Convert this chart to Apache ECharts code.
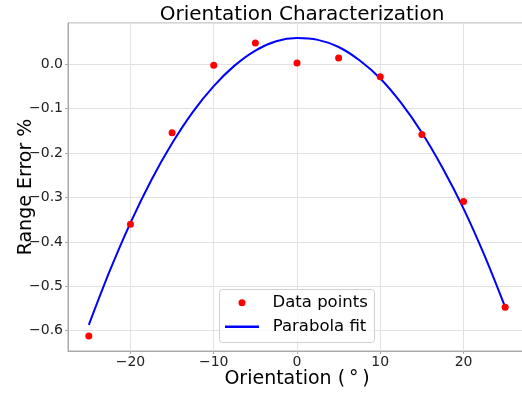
<!DOCTYPE html>
<html>
<head>
<meta charset="utf-8">
<script src="https://cdn.jsdelivr.net/npm/echarts@6/dist/echarts.min.js"></script>
<style>html,body{margin:0;padding:0;background:#fff;}#c{width:522px;height:393px;}</style>
</head>
<body>
<div id="c"></div>
<script>
// Data points
const pointX = [-25, -20, -15, -10, -5, 0, 5, 10, 15, 20, 25];
const pointY = [-0.612, -0.360, -0.154, -0.002, 0.048, 0.003, 0.014, -0.028, -0.158, -0.309, -0.547];
// Parabola fit curve
const fitX = [-25, -22.5, -20, -17.5, -15, -12.5, -10, -7.5, -5, -2.5, 0, 2.5, 5, 7.5, 10, 12.5, 15, 17.5, 20, 22.5, 25];
const fitY = [-0.587, -0.466, -0.357, -0.261, -0.178, -0.107, -0.049, -0.003, 0.031, 0.052, 0.059, 0.055, 0.039, 0.009, -0.032, -0.087, -0.154, -0.234, -0.325, -0.430, -0.547];

const FONT = 'DejaVu Sans';
const chart = echarts.init(document.getElementById('c'), null, {renderer: 'canvas'});
const fmt = v => (v < 0 ? '\u2212' : '') + Math.abs(v);
const fmtY = v => (v < -1e-9 ? '\u2212' : '') + Math.abs(v).toFixed(1);
const legText = {fontFamily: FONT, fontSize: 16.5, color: '#000', lineHeight: 20};

chart.setOption({
  animation: false,
  backgroundColor: '#fff',
  title: {
    text: 'Orientation Characterization',
    left: 297, top: 0, textAlign: 'center',
    textStyle: {fontFamily: FONT, fontSize: 20, fontWeight: 'normal', color: '#000'}
  },
  grid: {left: 68, top: 23, width: 458, height: 328, outerBoundsMode: 'none', containLabel: false,
         show: true, borderColor: '#aaa', borderWidth: 1, backgroundColor: 'transparent'},
  xAxis: {
    type: 'value', min: -27.5, max: 27.5, splitNumber: 5,
    name: 'Orientation (\u2009\u00b0\u2009)', nameLocation: 'middle', nameGap: 19, nameMoveOverlap: false,
    nameTextStyle: {fontFamily: FONT, fontSize: 19, color: '#000'},
    axisLine: {show: true, onZero: false, lineStyle: {color: '#aaa', width: 1}},
    axisTick: {show: true, length: 3, lineStyle: {color: '#aaa'}},
    axisLabel: {fontFamily: FONT, fontSize: 14, color: '#222', margin: 4, showMinLabel: false, showMaxLabel: false, formatter: fmt},
    splitLine: {show: true, lineStyle: {color: '#e2e2e2', width: 1}}
  },
  yAxis: {
    type: 'value', min: -0.6457, max: 0.093, splitNumber: 7,
    name: 'Range Error %', nameLocation: 'middle', nameGap: 32, nameRotate: 90, nameMoveOverlap: false,
    nameTextStyle: {fontFamily: FONT, fontSize: 19, color: '#000'},
    axisLine: {show: true, onZero: false, lineStyle: {color: '#aaa', width: 1}},
    axisTick: {show: true, length: 3, lineStyle: {color: '#aaa'}},
    axisLabel: {fontFamily: FONT, fontSize: 14, color: '#222', margin: 5, showMinLabel: false, showMaxLabel: false, formatter: fmtY},
    splitLine: {show: true, lineStyle: {color: '#e2e2e2', width: 1}}
  },
  legend: [
    {
      data: [{name: 'Data points', icon: 'circle'}],
      left: 238.5, top: 292.7, padding: 0, itemWidth: 7, itemHeight: 7,
      formatter: '{g|}{t|{name}}',
      textStyle: Object.assign({}, legText, {rich: {g: {width: 22}, t: legText}})
    },
    {
      data: [{name: 'Parabola fit', icon: 'rect'}],
      left: 225, top: 316.7, padding: 0, itemWidth: 34, itemHeight: 2.5,
      formatter: '{g|}{t|{name}}',
      textStyle: Object.assign({}, legText, {rich: {g: {width: 8.7}, t: legText}})
    }
  ],
  graphic: [{
    type: 'rect', z: 3, silent: true,
    shape: {x: 219.5, y: 289.5, width: 155, height: 53, r: 3},
    style: {fill: 'rgba(255,255,255,0.8)', stroke: '#d0d0d0', lineWidth: 1}
  }],
  series: [
    {
      name: 'Parabola fit', type: 'line', smooth: 0.3, showSymbol: false, z: 2,
      data: fitX.map((x, i) => [x, fitY[i]]),
      lineStyle: {color: '#0000ff', width: 2}, itemStyle: {color: '#0000ff'}
    },
    {
      name: 'Data points', type: 'scatter', symbol: 'circle', symbolSize: 7, z: 3,
      data: pointX.map((x, i) => [x, pointY[i]]),
      itemStyle: {color: '#ff0000', opacity: 1}
    }
  ]
});
</script>
</body>
</html>
